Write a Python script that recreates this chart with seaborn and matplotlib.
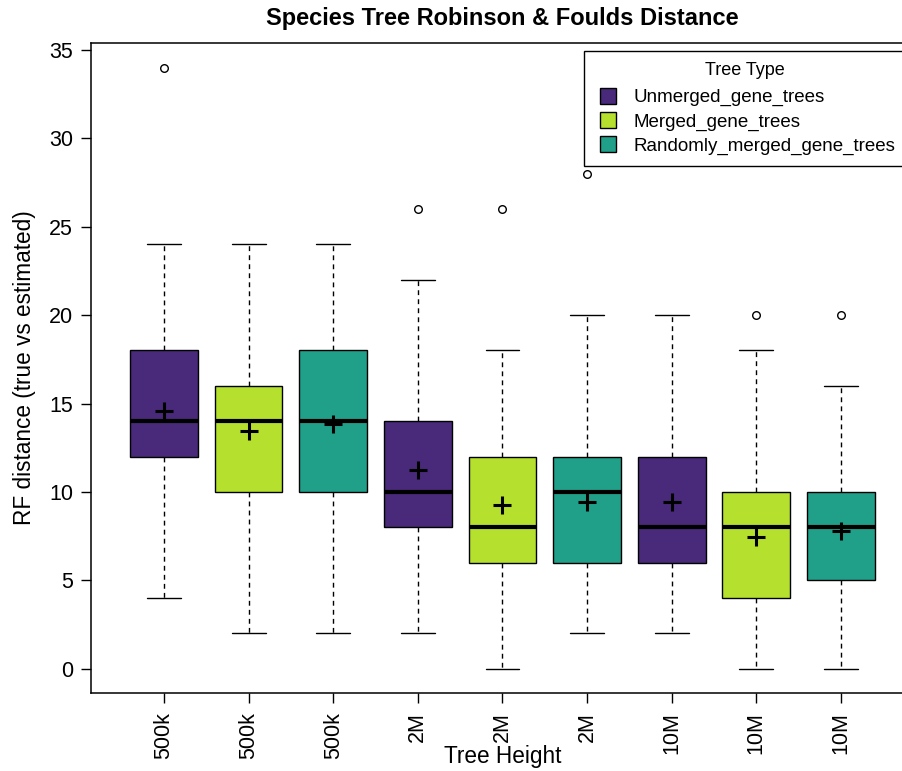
import numpy as np
import pandas as pd
import matplotlib.pyplot as plt
import seaborn as sns
from matplotlib.lines import Line2D

# five-number summaries, one per box
heights = ['500k', '500k', '500k', '2M', '2M', '2M', '10M', '10M', '10M']
tree_types = ['Unmerged_gene_trees', 'Merged_gene_trees', 'Randomly_merged_gene_trees'] * 3
whisker_low = [4, 2, 2, 2, 0, 2, 2, 0, 0]
q1 = [12, 10, 10, 8, 6, 6, 6, 4, 5]
median = [14, 14, 14, 10, 8, 10, 8, 8, 8]
q3 = [18, 16, 18, 14, 12, 12, 12, 10, 10]
whisker_high = [24, 24, 24, 22, 18, 20, 20, 18, 16]
means = [14.55, 13.45, 13.85, 11.25, 9.26, 9.4, 9.4, 7.42, 7.8]
outlier_box = [1, 4, 5, 6, 8, 9]
outlier_val = [34, 26, 26, 28, 20, 20]

type_order = ['Unmerged_gene_trees', 'Merged_gene_trees', 'Randomly_merged_gene_trees']
colors = {'Unmerged_gene_trees': '#48297A',
          'Merged_gene_trees': '#B5E02D',
          'Randomly_merged_gene_trees': '#20A089'}

# long table: the five summary values of each box as its data
rows = []
for i in range(len(heights)):
    for v in (whisker_low[i], q1[i], median[i], q3[i], whisker_high[i]):
        rows.append({'pos': i + 1, 'type': tree_types[i], 'rf': v})
df = pd.DataFrame(rows)

sns.set_style('ticks')
plt.rcParams['font.family'] = ['Liberation Sans', 'DejaVu Sans']
for k in ['text.color', 'axes.labelcolor', 'xtick.color', 'ytick.color', 'axes.edgecolor']:
    plt.rcParams[k] = 'black'

fig = plt.figure(figsize=(9.02, 7.71), dpi=100)
ax = fig.add_axes([0.1009, 0.1016, 0.912, 0.8427])

sns.boxplot(data=df, x='pos', y='rf', hue='type', hue_order=type_order,
            palette=colors, saturation=1, native_scale=True, dodge=False, width=0.8,
            whis=(0, 100), showfliers=False, linecolor='black', linewidth=1,
            medianprops=dict(linewidth=3, color='black'),
            whiskerprops=dict(linestyle=(0, (3.5, 3)), linewidth=1),
            legend=False, ax=ax)

# means as crosses, outliers as open circles
pos = np.arange(1, len(heights) + 1)
sns.scatterplot(x=pos, y=means, marker='+', s=160, color='black',
                linewidth=2.2, zorder=5, ax=ax)
sns.scatterplot(x=outlier_box, y=outlier_val, marker='o', s=30,
                facecolor='white', edgecolor='black', linewidth=1,
                zorder=5, ax=ax)

ax.set_xlim(0.137, 9.86)
ax.set_ylim(-1.36, 35.4)
ax.set_yticks(range(0, 36, 5))
ax.set_xticks(pos)
ax.set_xticklabels(heights, rotation=90)
ax.tick_params(axis='both', length=7, width=1, labelsize=15.5)
ax.tick_params(axis='y', pad=6)
ax.tick_params(axis='x', pad=7)
for s in ax.spines.values():
    s.set_visible(True)
    s.set_linewidth(1.1)

ax.set_xlabel('Tree Height', fontsize=16.3)
ax.xaxis.set_label_coords(0.5, -0.108)
ax.xaxis.label.set_va('baseline')
ax.set_ylabel('RF distance (true vs estimated)', fontsize=16.3)
ax.yaxis.set_label_coords(-0.067, 0.5)
ax.set_title('Species Tree Robinson & Foulds Distance', fontsize=17,
             fontweight='bold', pad=13)

handles = [Line2D([], [], marker='s', linestyle='none', markersize=11.5,
                  markerfacecolor=colors[t], markeredgecolor='black',
                  markeredgewidth=1) for t in type_order]
leg = fig.legend(handles, type_order, title='Tree Type', loc='upper left',
                 bbox_to_anchor=(584 / 902, 1 - 51 / 771), fontsize=13.5,
                 title_fontsize=13, frameon=True, fancybox=False,
                 edgecolor='black', framealpha=1, borderaxespad=0,
                 handlelength=1.39, labelspacing=0.37,
                 handletextpad=0.64, borderpad=0.6)
leg.get_frame().set_linewidth(1)
leg._legend_box.sep = 7

fig.savefig('out.png', dpi=100)
